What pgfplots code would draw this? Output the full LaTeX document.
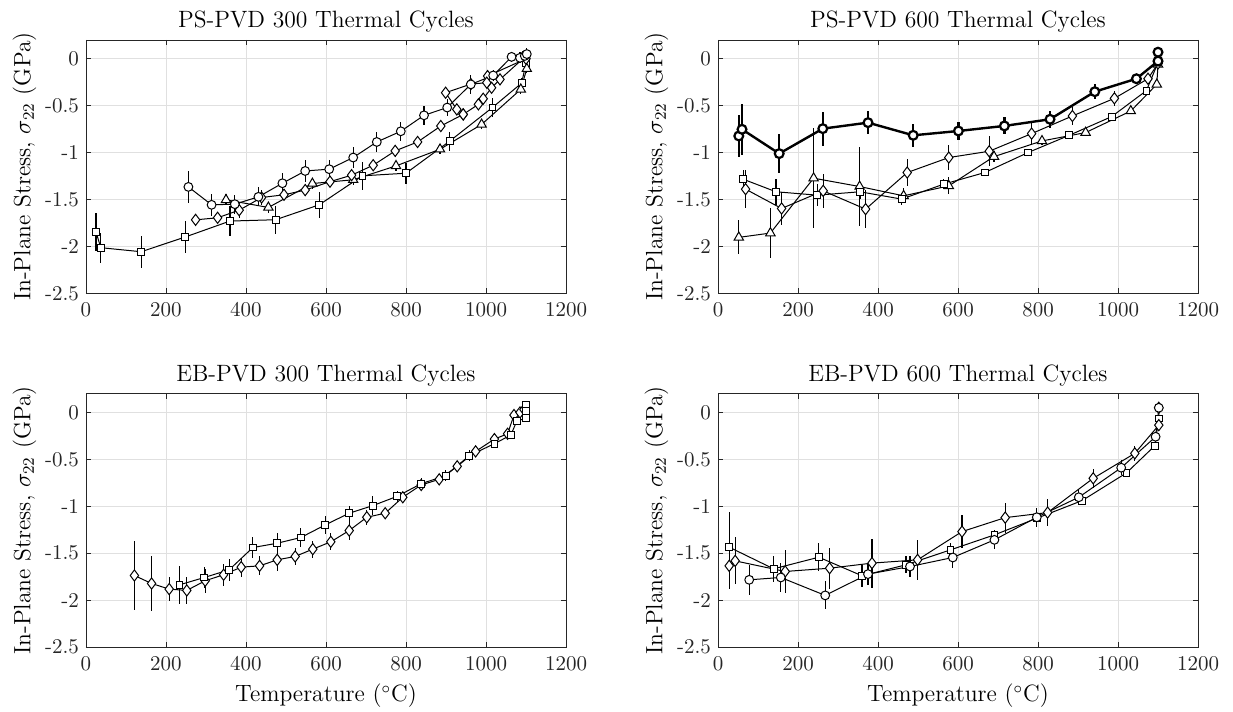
\documentclass[border=0pt]{standalone}
\usepackage{pgfplots}
\pgfplotsset{compat=1.18}

\pgfplotsset{
  panel/.style={
    scale only axis, width=240pt, height=126.65pt,
    anchor=south west,
    xmin=0, xmax=1200, ymin=-2.5, ymax=0.2,
    xtick={0,200,400,600,800,1000,1200},
    xticklabels={0,200,400,600,800,1000,1200},
    ytick={-2.5,-2,-1.5,-1,-0.5,0},
    yticklabels={-2.5,-2,-1.5,-1,-0.5,0},
    grid=major, grid style={draw=black!12, line width=0.4pt},
    axis line style={draw=black!85, line width=0.45pt},
    tick style={draw=black!85, line width=0.45pt},
    major tick length=2.5pt, tick align=inside,
    tick label style={font=\fontsize{10.5}{12}\selectfont, text=black!85},
    xticklabel style={yshift=-1pt},
    title style={font=\fontsize{11.8}{14}\selectfont,
      at={(axis description cs:0.5,1)}, anchor=base, yshift=0pt},
    label style={font=\fontsize{11.8}{14}\selectfont},
    ylabel={In-Plane Stress, $\sigma_{22}$ (GPa)},
    ylabel style={at={(axis description cs:-0.1283,0.5)}, anchor=center},
    xlabel style={at={(axis description cs:0.5,0)}, anchor=base, yshift=-27.5pt},
  },
  ser/.style={black, line width=0.5pt,
    mark options={fill=white, solid, line width=0.5pt},
    error bars/y dir=both, error bars/y explicit, error bars/error mark=none,
    error bars/error bar style={line width=0.6pt}},
  sq/.style={ser, mark=square*, mark size=1.7pt},
  ci/.style={ser, mark=*, mark size=2.2pt},
  di/.style={ser, mark=diamond*, mark size=2.8pt},
  tr/.style={ser, mark=triangle*, mark size=2.7pt},
}

\begin{document}
\begin{tikzpicture}
\useasboundingbox (0,0) rectangle (616.5pt,356pt);

% PS-PVD 300
\begin{axis}[panel, at={(43pt,209.35pt)}, title={PS-PVD 300 Thermal Cycles}]
\addplot[sq] coordinates {
 (25,-1.847) +- (0,0.2) (37,-2.014) +- (0,0.16) (138,-2.057) +- (0,0.17)
 (248,-1.90) +- (0,0.17) (360,-1.73) +- (0,0.16) (474,-1.716) +- (0,0.15)
 (583,-1.557) +- (0,0.14) (691,-1.248) +- (0,0.15) (800,-1.22) +- (0,0.11)
 (909,-0.879) +- (0,0.1) (1016,-0.52) +- (0,0.1) (1089,-0.26) +- (0,0.05)
 (1100,-0.05) +- (0,0.05) (1100,0.04) +- (0,0.04)
};
\addplot[tr] coordinates {
 (350,-1.504) +- (0,0.06) (456,-1.585) +- (0,0.06) (566,-1.33) +- (0,0.06)
 (668,-1.29) +- (0,0.06) (775,-1.142) +- (0,0.05) (885,-0.965) +- (0,0.05)
 (989,-0.70) +- (0,0.05) (1087,-0.326) +- (0,0.05) (1102,-0.107) +- (0,0.05)
};
\addplot[di] coordinates {
 (274,-1.717) +- (0,0.06) (329,-1.695) +- (0,0.06) (383,-1.614) +- (0,0.08)
 (439,-1.479) +- (0,0.08) (495,-1.45) +- (0,0.06) (548,-1.40) +- (0,0.06)
 (610,-1.31) +- (0,0.06) (664,-1.241) +- (0,0.06) (718,-1.135) +- (0,0.06)
 (773,-0.982) +- (0,0.06) (829,-0.887) +- (0,0.05) (887,-0.717) +- (0,0.05)
 (943,-0.593) +- (0,0.05) (981,-0.486) +- (0,0.05) (993,-0.426) +- (0,0.05)
 (1014,-0.309) +- (0,0.05) (1035,-0.22) +- (0,0.05) (1100,0.03) +- (0,0.05)
};
\addplot[di] coordinates {
 (1100,0.0) +- (0,0.05) (1004,-0.185) +- (0,0.05) (1002,-0.255) +- (0,0.05)
 (962,-0.27) +- (0,0.05) (899,-0.362) +- (0,0.05) (927,-0.54) +- (0,0.05)
 (943,-0.593) +- (0,0.05)
};
\addplot[ci] coordinates {
 (256,-1.366) +- (0,0.17) (314,-1.557) +- (0,0.12) (372,-1.55) +- (0,0.1)
 (431,-1.472) +- (0,0.1) (491,-1.327) +- (0,0.11) (548,-1.196) +- (0,0.12)
 (608,-1.177) +- (0,0.1) (668,-1.053) +- (0,0.11) (727,-0.887) +- (0,0.11)
 (787,-0.773) +- (0,0.1) (845,-0.603) +- (0,0.1) (903,-0.52) +- (0,0.09)
 (962,-0.273) +- (0,0.1) (1018,-0.178) +- (0,0.06) (1064,0.02) +- (0,0.05)
 (1085,0.01) +- (0,0.06) (1097,0.03) +- (0,0.06) (1102,0.05) +- (0,0.06)
};
\end{axis}

% PS-PVD 600
\begin{axis}[panel, at={(359pt,209.35pt)}, title={PS-PVD 600 Thermal Cycles}]
\addplot[tr] coordinates {
 (52,-1.904) +- (0,0.18) (131,-1.858) +- (0,0.27) (239,-1.273) +- (0,0.53)
 (354,-1.362) +- (0,0.42) (464,-1.461) +- (0,0.08) (577,-1.355) +- (0,0.09)
 (690,-1.043) +- (0,0.06) (810,-0.876) +- (0,0.04) (919,-0.787) +- (0,0.03)
 (1032,-0.557) +- (0,0.03) (1097,-0.273) +- (0,0.03) (1100,-0.06) +- (0,0.03)
};
\addplot[sq] coordinates {
 (63,-1.284) +- (0,0.1) (145,-1.418) +- (0,0.14) (248,-1.454) +- (0,0.12)
 (355,-1.418) +- (0,0.08) (459,-1.496) +- (0,0.06) (564,-1.337) +- (0,0.05)
 (667,-1.213) +- (0,0.04) (775,-1.0) +- (0,0.04) (878,-0.816) +- (0,0.03)
 (984,-0.617) +- (0,0.03) (1071,-0.34) +- (0,0.03) (1101,-0.03) +- (0,0.03)
};
\addplot[di] coordinates {
 (69,-1.39) +- (0,0.2) (159,-1.596) +- (0,0.18) (263,-1.408) +- (0,0.18)
 (369,-1.603) +- (0,0.2) (473,-1.213) +- (0,0.14) (577,-1.053) +- (0,0.13)
 (678,-0.986) +- (0,0.16) (784,-0.798) +- (0,0.11) (886,-0.61) +- (0,0.1)
 (991,-0.422) +- (0,0.08) (1075,-0.213) +- (0,0.05) (1100,-0.05) +- (0,0.04)
};
\addplot[ci, line width=1.2pt, mark options={fill=white, solid, line width=1.1pt},
  error bars/error bar style={line width=1.1pt}] coordinates {
 (52,-0.823) +- (0,0.22) (60,-0.752) +- (0,0.27) (153,-1.011) +- (0,0.21)
 (262,-0.745) +- (0,0.18) (375,-0.681) +- (0,0.12) (488,-0.816) +- (0,0.12)
 (601,-0.77) +- (0,0.1) (716,-0.716) +- (0,0.09) (830,-0.645) +- (0,0.09)
 (942,-0.351) +- (0,0.08) (1046,-0.213) +- (0,0.05) (1100,-0.025) +- (0,0.03)
 (1100,0.07) +- (0,0.03)
};
\end{axis}

% EB-PVD 300
\begin{axis}[panel, at={(43pt,32.5pt)}, title={EB-PVD 300 Thermal Cycles},
  xlabel={Temperature ($^\circ$C)}]
\addplot[di] coordinates {
 (121,-1.738) +- (0,0.37) (164,-1.823) +- (0,0.29) (208,-1.883) +- (0,0.13)
 (252,-1.897) +- (0,0.14) (298,-1.794) +- (0,0.13) (344,-1.73) +- (0,0.12)
 (388,-1.649) +- (0,0.1) (434,-1.635) +- (0,0.1) (478,-1.571) +- (0,0.12)
 (523,-1.535) +- (0,0.09) (567,-1.457) +- (0,0.09) (612,-1.379) +- (0,0.09)
 (658,-1.259) +- (0,0.1) (702,-1.117) +- (0,0.08) (748,-1.074) +- (0,0.05)
 (792,-0.904) +- (0,0.05) (838,-0.773) +- (0,0.05) (883,-0.713) +- (0,0.04)
 (928,-0.574) +- (0,0.04) (974,-0.415) +- (0,0.04) (1021,-0.284) +- (0,0.04)
 (1054,-0.227) +- (0,0.04) (1070,-0.028) +- (0,0.04) (1085,0.0) +- (0,0.04)
 (1095,0.03) +- (0,0.04)
};
\addplot[sq] coordinates {
 (234,-1.837) +- (0,0.2) (296,-1.759) +- (0,0.11) (358,-1.677) +- (0,0.12)
 (417,-1.44) +- (0,0.11) (478,-1.394) +- (0,0.11) (537,-1.333) +- (0,0.1)
 (598,-1.199) +- (0,0.1) (658,-1.074) +- (0,0.08) (717,-0.993) +- (0,0.1)
 (778,-0.894) +- (0,0.06) (838,-0.759) +- (0,0.06) (899,-0.674) +- (0,0.06)
 (958,-0.461) +- (0,0.06) (1021,-0.333) +- (0,0.04) (1062,-0.241) +- (0,0.04)
 (1077,-0.092) +- (0,0.04) (1100,-0.06) +- (0,0.04) (1100,0.014) +- (0,0.04)
 (1100,0.085) +- (0,0.04)
};
\end{axis}

% EB-PVD 600
\begin{axis}[panel, at={(359pt,32.5pt)}, title={EB-PVD 600 Thermal Cycles},
  xlabel={Temperature ($^\circ$C)}]
\addplot[sq] coordinates {
 (28,-1.436) +- (0,0.37) (139,-1.667) +- (0,0.14) (252,-1.543) +- (0,0.15)
 (360,-1.741) +- (0,0.12) (470,-1.624) +- (0,0.09) (581,-1.465) +- (0,0.07)
 (691,-1.305) +- (0,0.05) (797,-1.128) +- (0,0.05) (910,-0.94) +- (0,0.04)
 (1021,-0.645) +- (0,0.03) (1092,-0.355) +- (0,0.03) (1102,-0.064) +- (0,0.03)
};
\addplot[di] coordinates {
 (28,-1.635) +- (0,0.25) (43,-1.582) +- (0,0.25) (168,-1.695) +- (0,0.23)
 (279,-1.66) +- (0,0.22) (385,-1.606) +- (0,0.26) (499,-1.571) +- (0,0.21)
 (610,-1.27) +- (0,0.18) (718,-1.121) +- (0,0.16) (824,-1.067) +- (0,0.14)
 (938,-0.702) +- (0,0.1) (1042,-0.436) +- (0,0.08) (1102,-0.135) +- (0,0.06)
 (1102,0.05) +- (0,0.04)
};
\addplot[ci] coordinates {
 (78,-1.784) +- (0,0.16) (157,-1.759) +- (0,0.15) (268,-1.95) +- (0,0.15)
 (375,-1.723) +- (0,0.12) (480,-1.642) +- (0,0.11) (587,-1.546) +- (0,0.11)
 (691,-1.358) +- (0,0.1) (797,-1.117) +- (0,0.1) (902,-0.904) +- (0,0.08)
 (1008,-0.589) +- (0,0.08) (1094,-0.259) +- (0,0.05) (1102,0.05) +- (0,0.03)
};
\end{axis}
\end{tikzpicture}
\end{document}
